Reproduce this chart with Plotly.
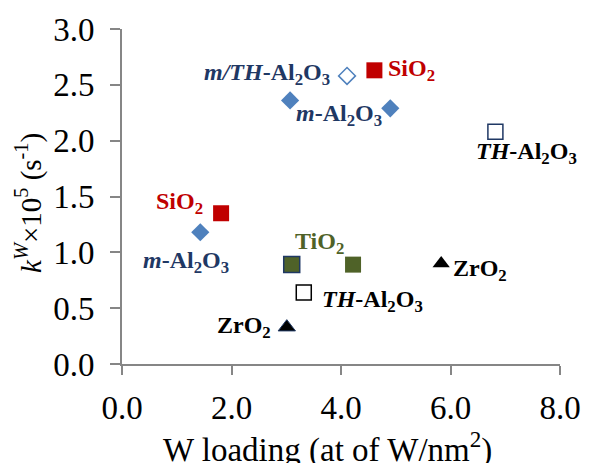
import plotly.graph_objects as go

# ---- data ----
m_al2o3_x = [1.43, 3.07, 4.90]
m_al2o3_y = [1.18, 2.36, 2.29]
mth_al2o3_x = [4.11]
mth_al2o3_y = [2.58]
sio2_x = [1.81, 4.61]
sio2_y = [1.35, 2.63]
th_al2o3_x = [3.32, 6.82]
th_al2o3_y = [0.64, 2.08]
tio2_x = [3.10, 4.22]
tio2_y = [0.89, 0.89]
zro2_x = [3.01, 5.83]
zro2_y = [0.33, 0.90]

x_ticks = [0, 2, 4, 6, 8]
y_ticks = [0, 0.5, 1.0, 1.5, 2.0, 2.5, 3.0]

FONT = "Liberation Serif"
NAVY = "#1F3864"
RED = "#C00000"
OLIVE = "#4F6228"
BLUE = "#4F81BD"

fig = go.Figure()
fig.add_trace(go.Scatter(x=m_al2o3_x, y=m_al2o3_y, mode="markers",
    marker=dict(symbol="diamond", size=14, color=BLUE, line=dict(width=0))))
fig.add_trace(go.Scatter(x=mth_al2o3_x, y=mth_al2o3_y, mode="markers",
    marker=dict(symbol="diamond", size=13, color="white", line=dict(width=1.5, color=BLUE))))
fig.add_trace(go.Scatter(x=sio2_x, y=sio2_y, mode="markers",
    marker=dict(symbol="square", size=16, color=RED, line=dict(width=0))))
fig.add_trace(go.Scatter(x=th_al2o3_x, y=th_al2o3_y, mode="markers",
    marker=dict(symbol="square", size=15, color="white",
                line=dict(width=1.5, color=["#000000", NAVY]))))
fig.add_trace(go.Scatter(x=tio2_x, y=tio2_y, mode="markers",
    marker=dict(symbol="square", size=16, color=OLIVE,
                line=dict(width=[1.5, 0], color=[NAVY, OLIVE]))))
fig.add_trace(go.Scatter(x=zro2_x, y=zro2_y, mode="markers",
    marker=dict(symbol="triangle-up", size=15, color="#000000",
                line=dict(width=[1, 0], color=[NAVY, "#000000"]))))

# ---- labels ----
labels = [
    ("<i>m/TH</i>-Al<sub>2</sub>O<sub>3</sub>", 3.84, 2.60, "right", NAVY),
    ("SiO<sub>2</sub>", 4.83, 2.63, "left", RED),
    ("<i>m</i>-Al<sub>2</sub>O<sub>3</sub>", 3.14, 2.23, "left", NAVY),
    ("<i>TH</i>-Al<sub>2</sub>O<sub>3</sub>", 6.42, 1.89, "left", "#000000"),
    ("SiO<sub>2</sub>", 0.59, 1.44, "left", RED),
    ("<i>m</i>-Al<sub>2</sub>O<sub>3</sub>", 0.34, 0.91, "left", NAVY),
    ("TiO<sub>2</sub>", 3.12, 1.08, "left", OLIVE),
    ("ZrO<sub>2</sub>", 6.01, 0.84, "left", "#000000"),
    ("<i>TH</i>-Al<sub>2</sub>O<sub>3</sub>", 3.61, 0.56, "left", "#000000"),
    ("ZrO<sub>2</sub>", 1.70, 0.33, "left", "#000000"),
]
for txt, lx, ly, anc, col in labels:
    fig.add_annotation(x=lx, y=ly, text="<b>" + txt + "</b>", showarrow=False,
                       xanchor=anc, yanchor="middle",
                       font=dict(family=FONT, size=24, color=col))

# axis titles
fig.add_annotation(xref="paper", yref="paper", x=-0.213, y=0.48,
                   text="<i>k</i><sup><i>W</i></sup>×10<sup>5</sup> (s<sup>-1</sup>)",
                   textangle=-90, showarrow=False, xanchor="center", yanchor="middle",
                   font=dict(family=FONT, size=29, color="#000000"))
fig.add_annotation(xref="paper", yref="paper", x=0.47, y=-0.25,
                   text="W loading (at of W/nm<sup>2</sup>)",
                   showarrow=False, xanchor="center", yanchor="middle",
                   font=dict(family=FONT, size=33, color="#000000"))

axis_common = dict(showgrid=False, zeroline=False, showline=True, linecolor="#868686",
                   linewidth=2, ticks="outside", tickcolor="#868686", tickwidth=2,
                   tickfont=dict(family=FONT, size=33, color="#000000"))
fig.update_xaxes(range=[0, 8], tickvals=x_ticks, ticktext=[f"{v:.1f}" for v in x_ticks],
                 ticklen=9, ticklabelstandoff=4, **axis_common)
fig.update_yaxes(range=[0, 3], tickvals=y_ticks, ticktext=[f"{v:.1f}" for v in y_ticks],
                 ticklen=10, ticklabelstandoff=9, **axis_common)

fig.update_layout(width=593, height=463, showlegend=False,
                  margin=dict(l=122, r=25, t=29, b=99),
                  plot_bgcolor="white", paper_bgcolor="white")
fig.write_html("out.html")
